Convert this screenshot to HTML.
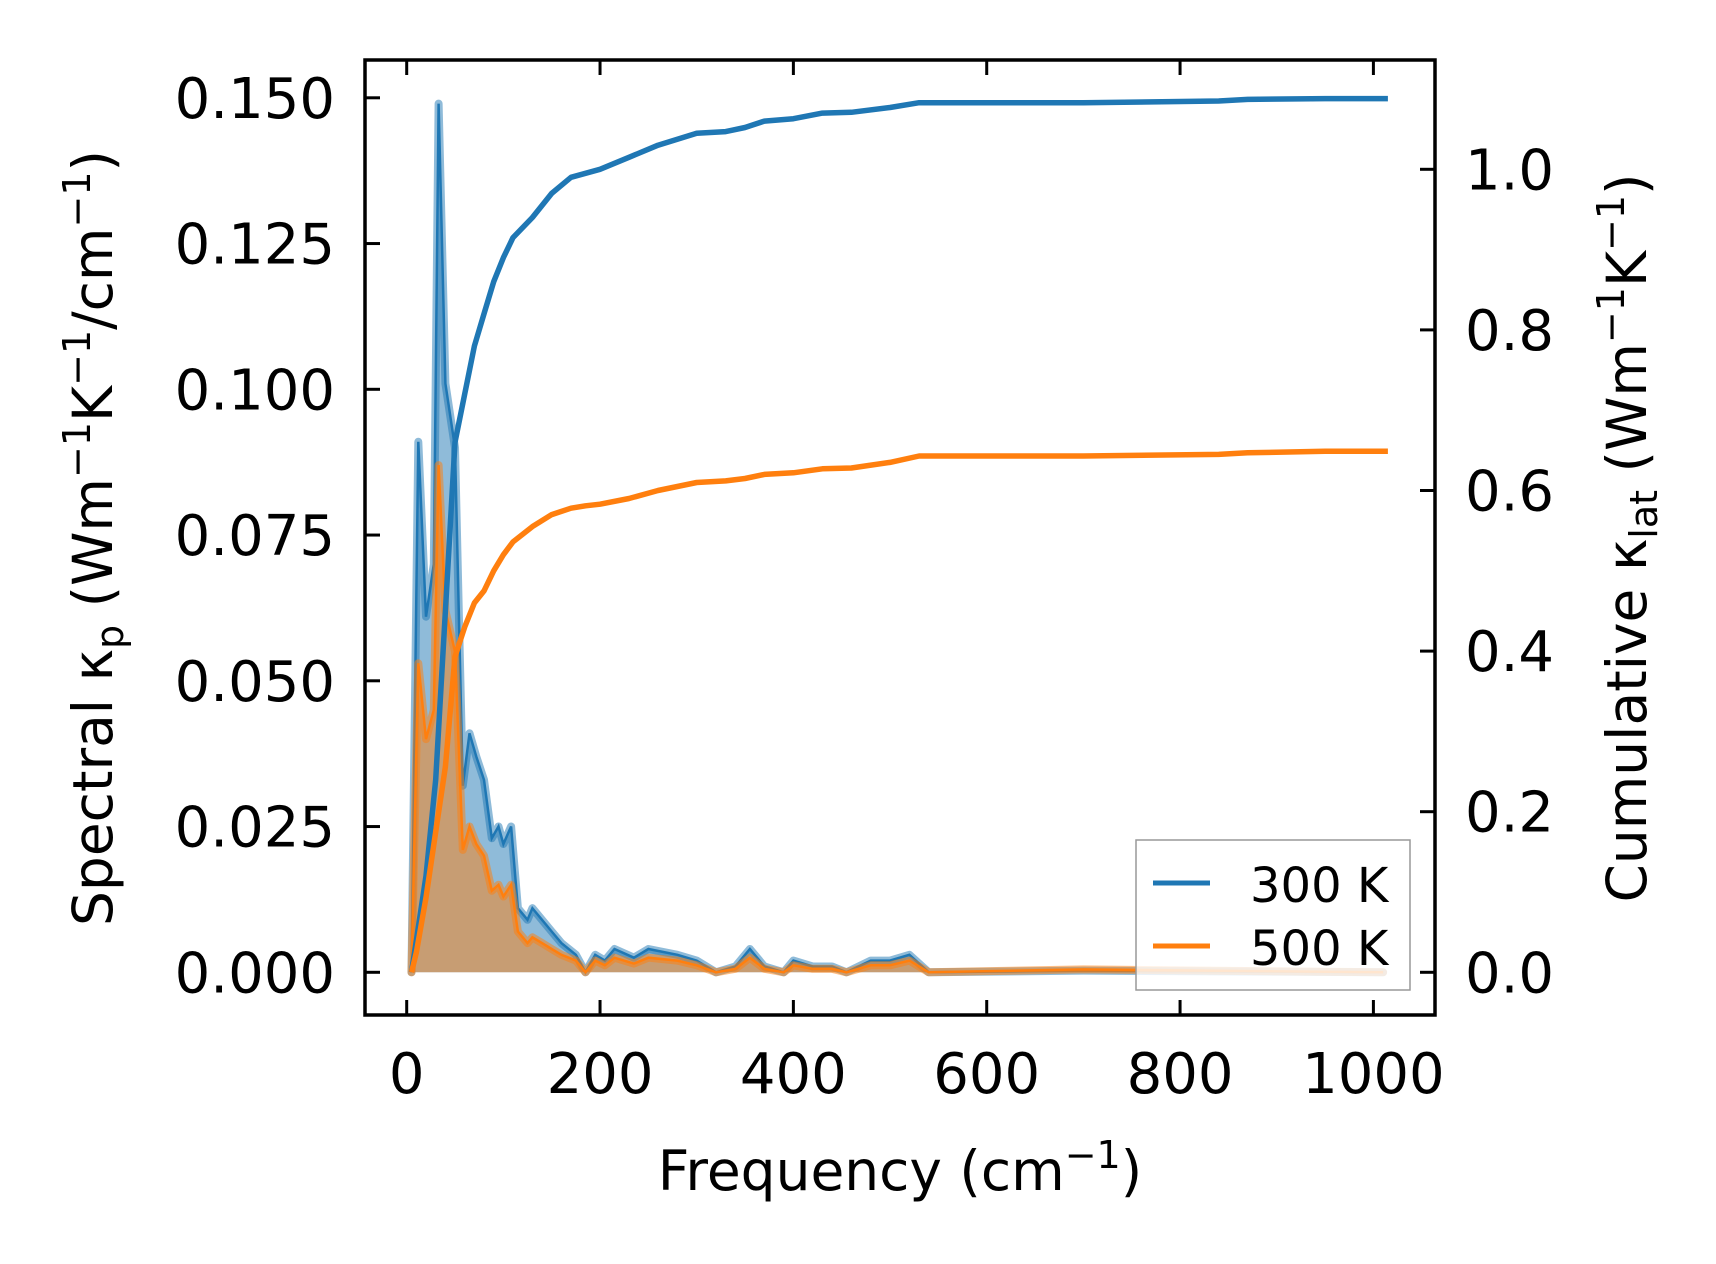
<!DOCTYPE html>
<html><head><meta charset="utf-8"><style>
body{margin:0;background:#fff}
svg{display:block;font-family:"DejaVu Sans","Liberation Sans",sans-serif}
</style></head><body>
<svg id="chart" width="1716" height="1264" viewBox="0 0 1716 1264" xmlns="http://www.w3.org/2000/svg">
<rect width="1716" height="1264" fill="#fff"/>
<g id="plot"></g>
</svg>
<script>
const freqSpec=[5,12,20,28,33,40,50,58,65,72,80,88,95,100,108,115,125,130,140,150,160,175,185,195,205,215,235,250,280,300,320,340,355,370,390,400,420,440,455,480,500,520,540,700,1010];
const spec300=[0,0.091,0.061,0.070,0.149,0.101,0.090,0.032,0.041,0.037,0.033,0.023,0.025,0.022,0.025,0.011,0.009,0.011,0.009,0.007,0.005,0.003,0,0.003,0.002,0.004,0.0025,0.004,0.003,0.002,0,0.001,0.004,0.001,0,0.002,0.001,0.001,0,0.002,0.002,0.003,0,0.0003,0];
const spec500=[0,0.053,0.040,0.045,0.087,0.062,0.055,0.021,0.025,0.022,0.020,0.014,0.015,0.013,0.015,0.007,0.005,0.006,0.005,0.004,0.003,0.002,0,0.002,0.0012,0.0025,0.0015,0.0025,0.002,0.0012,0,0.0006,0.0025,0.0006,0,0.0012,0.0006,0.0006,0,0.0012,0.0012,0.002,0,0.0005,0];
const freqCum=[5,10,20,30,40,50,60,70,80,90,100,110,130,150,170,185,200,230,260,300,330,350,370,400,430,460,500,530,700,840,870,950,1015];
const cum300=[0,0.04,0.12,0.24,0.45,0.66,0.72,0.78,0.82,0.86,0.89,0.915,0.94,0.97,0.99,0.995,1.0,1.015,1.03,1.045,1.047,1.052,1.06,1.063,1.07,1.071,1.077,1.083,1.083,1.085,1.087,1.088,1.088];
const cum500=[0,0.025,0.093,0.175,0.256,0.393,0.43,0.46,0.475,0.50,0.52,0.536,0.555,0.57,0.578,0.581,0.583,0.59,0.60,0.61,0.612,0.615,0.62,0.622,0.627,0.628,0.635,0.643,0.643,0.645,0.647,0.649,0.649];
const xTicks=[0,200,400,600,800,1000];
const yLeftTicks=[0,0.025,0.05,0.075,0.1,0.125,0.15];
const yLeftLabels=["0.000","0.025","0.050","0.075","0.100","0.125","0.150"];
const yRightTicks=[0,0.2,0.4,0.6,0.8,1.0];
const yRightLabels=["0.0","0.2","0.4","0.6","0.8","1.0"];

const L=365,R=1435,T=60,B=1015;
const X=v=>406.7+v*0.9667;
const YL=v=>972.3-v*5830;
const YR=v=>972.3-v*803;
const g=document.getElementById('plot');
const NS='http://www.w3.org/2000/svg';
function mk(tag,attrs,parent){const e=document.createElementNS(NS,tag);for(const k in attrs)e.setAttribute(k,attrs[k]);(parent||g).appendChild(e);return e;}
function linePts(xs,ys,fy){return xs.map((x,i)=>X(x).toFixed(1)+','+fy(ys[i]).toFixed(1)).join(' ');}
function areaPts(xs,ys,fy){return linePts(xs,ys,fy)+' '+X(xs[xs.length-1]).toFixed(1)+','+fy(0)+' '+X(xs[0]).toFixed(1)+','+fy(0);}

const a3=mk('polygon',{points:areaPts(freqSpec,spec300,YL),fill:'rgba(31,119,180,0.5)'});


const e3=mk('polyline',{points:linePts(freqSpec,spec300,YL),fill:'none',stroke:'rgba(31,119,180,0.5)','stroke-width':8,'stroke-linejoin':'round','stroke-linecap':'round'});


const l3=mk('polyline',{points:linePts(freqSpec,spec300,YL),fill:'none',stroke:'#1f77b4','stroke-width':2.5});


const a5=mk('polygon',{points:areaPts(freqSpec,spec500,YL),fill:'rgba(255,127,14,0.5)'});


const e5=mk('polyline',{points:linePts(freqSpec,spec500,YL),fill:'none',stroke:'rgba(255,127,14,0.5)','stroke-width':8,'stroke-linejoin':'round','stroke-linecap':'round'});


const l5=mk('polyline',{points:linePts(freqSpec,spec500,YL),fill:'none',stroke:'#ff7f0e','stroke-width':2.5});


const c3=mk('polyline',{points:linePts(freqCum,cum300,YR),fill:'none',stroke:'#1f77b4','stroke-width':5.5,'stroke-linejoin':'round'});


const c5=mk('polyline',{points:linePts(freqCum,cum500,YR),fill:'none',stroke:'#ff7f0e','stroke-width':5.5,'stroke-linejoin':'round'});



const fr=mk('rect',{x:L,y:T,width:R-L,height:B-T,fill:'none',stroke:'#000','stroke-width':3.5});


xTicks.forEach(v=>{
  const x=X(v);
  const t1=mk('line',{x1:x,x2:x,y1:B,y2:B-15,stroke:'#000','stroke-width':3});
  
  
  const t2=mk('line',{x1:x,x2:x,y1:T,y2:T+15,stroke:'#000','stroke-width':3});
  
  
  const tx=mk('text',{x:x,y:1093,'font-size':56,'text-anchor':'middle',fill:'#000'});
  tx.textContent=String(v);
  
  
});
yLeftTicks.forEach((v,i)=>{
  const y=YL(v);
  const t=mk('line',{x1:L,x2:L+15,y1:y,y2:y,stroke:'#000','stroke-width':3});
  
  
  const tx=mk('text',{x:335,y:y+20,'font-size':56,'text-anchor':'end',fill:'#000'});
  tx.textContent=yLeftLabels[i];
  
  
});
yRightTicks.forEach((v,i)=>{
  const y=YR(v);
  const t=mk('line',{x1:R,x2:R-15,y1:y,y2:y,stroke:'#000','stroke-width':3});
  
  
  const tx=mk('text',{x:1465,y:y+20,'font-size':56,'text-anchor':'start',fill:'#000'});
  tx.textContent=yRightLabels[i];
  
  
});
</script>
<svg style="position:absolute;left:0;top:0" width="1716" height="1264" xmlns="http://www.w3.org/2000/svg">
<text x="900" y="1190" font-size="55" text-anchor="middle" font-family="DejaVu Sans, sans-serif">Frequency (cm<tspan dy="-22" font-size="38">−1</tspan><tspan dy="22">)</tspan></text>
<text transform="translate(112,538) rotate(-90)" font-size="55" text-anchor="middle" font-family="DejaVu Sans, sans-serif">Spectral κ<tspan dy="11" font-size="38">p</tspan><tspan dy="-11"> (Wm</tspan><tspan dy="-22" font-size="38">−1</tspan><tspan dy="22">K</tspan><tspan dy="-22" font-size="38">−1</tspan><tspan dy="22">/cm</tspan><tspan dy="-22" font-size="38">−1</tspan><tspan dy="22">)</tspan></text>
<text transform="translate(1646,538) rotate(-90)" font-size="55" text-anchor="middle" font-family="DejaVu Sans, sans-serif">Cumulative κ<tspan dy="11" font-size="38">lat</tspan><tspan dy="-11"> (Wm</tspan><tspan dy="-22" font-size="38">−1</tspan><tspan dy="22">K</tspan><tspan dy="-22" font-size="38">−1</tspan><tspan dy="22">)</tspan></text>
<g>
<rect x="1136" y="840" width="274" height="150" fill="rgba(255,255,255,0.8)" stroke="#999" stroke-width="1.5"/>
<line x1="1153" x2="1210" y1="883" y2="883" stroke="#1f77b4" stroke-width="5"/>
<text x="1250" y="902" font-size="48" font-family="DejaVu Sans, sans-serif">300 K</text>
<line x1="1153" x2="1210" y1="946" y2="946" stroke="#ff7f0e" stroke-width="5"/>
<text x="1250" y="965" font-size="48" font-family="DejaVu Sans, sans-serif">500 K</text>
</g>
</svg>
</body></html>
